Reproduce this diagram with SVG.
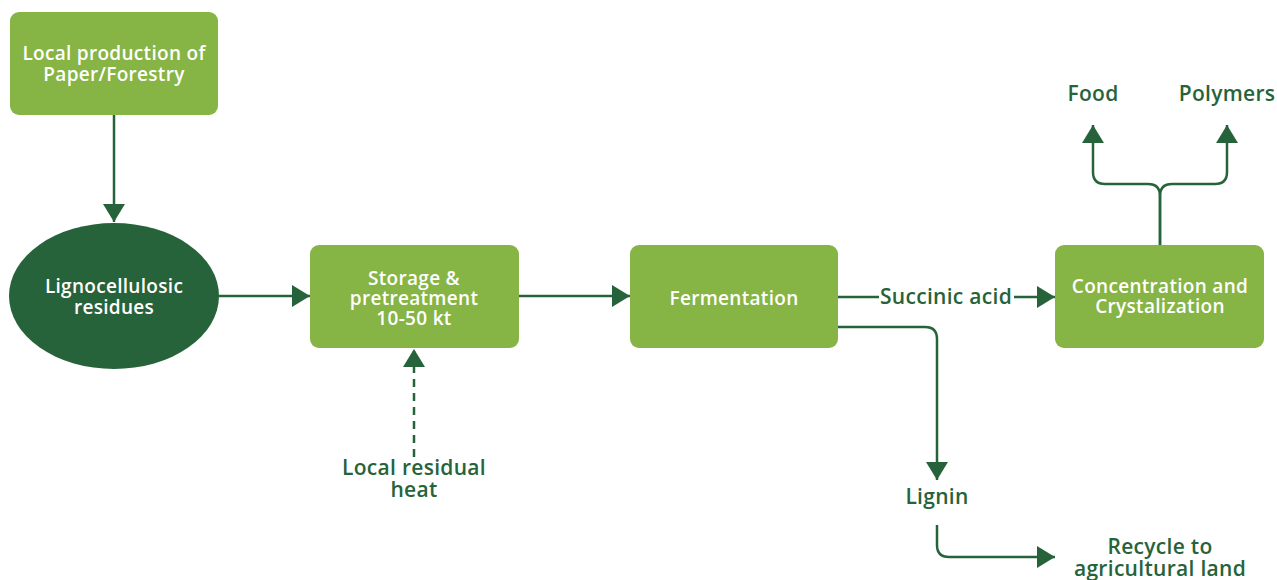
<svg xmlns="http://www.w3.org/2000/svg" width="1277" height="580" viewBox="0 0 1277 580">
<style>
.box{fill:#86b445;}
.dark{fill:#27633a;}
.wt{font-family:"Open Sans","Liberation Sans",sans-serif;font-weight:600;font-size:19px;letter-spacing:0.3px;fill:#ffffff;text-anchor:middle;}
.gt{font-family:"Open Sans","Liberation Sans",sans-serif;font-weight:600;font-size:21px;letter-spacing:0.3px;fill:#27633a;text-anchor:middle;}
.ln{fill:none;stroke:#27633a;stroke-width:2.5;}
</style>
<defs>
<marker id="ah" viewBox="0 0 18 22" refX="18" refY="11" markerWidth="18" markerHeight="22" markerUnits="userSpaceOnUse" orient="auto">
<path d="M0,0 L18,11 L0,22 z" fill="#27633a"/>
</marker>
</defs>
<rect width="1277" height="580" fill="#ffffff"/>
<g id="connectors">
<path class="ln" d="M114,115 V222" marker-end="url(#ah)"/>
<path class="ln" d="M219,296 H310" marker-end="url(#ah)"/>
<path class="ln" d="M519,296 H630" marker-end="url(#ah)"/>
<path class="ln" d="M414,457 V349" stroke-dasharray="8,6" marker-end="url(#ah)"/>
<path class="ln" d="M838,297 H879"/>
<path class="ln" d="M1014,297 H1055" marker-end="url(#ah)"/>
<path class="ln" d="M838,327 H925 Q937,327 937,339 V480" marker-end="url(#ah)"/>
<path class="ln" d="M937,525 V545 Q937,557 949,557 H1055" marker-end="url(#ah)"/>
<path class="ln" d="M1160,245 V196 Q1160,184 1148,184 H1105 Q1093,184 1093,172 V125" marker-end="url(#ah)"/>
<path class="ln" d="M1160,245 V196 Q1160,184 1172,184 H1215 Q1227,184 1227,172 V125" marker-end="url(#ah)"/>
</g>
<g id="node-local-production">
<rect class="box" x="10" y="12" width="208" height="103" rx="9"/>
<text class="wt" x="114" y="60">Local production of</text>
<text class="wt" x="114" y="81">Paper/Forestry</text>
</g>
<g id="node-lignocellulosic">
<ellipse class="dark" cx="114" cy="296" rx="105" ry="73"/>
<text class="wt" x="114" y="293">Lignocellulosic</text>
<text class="wt" x="114" y="314">residues</text>
</g>
<g id="node-storage">
<rect class="box" x="310" y="245" width="209" height="103" rx="9"/>
<text class="wt" x="414" y="285">Storage &amp;</text>
<text class="wt" x="414" y="305">pretreatment</text>
<text class="wt" x="414" y="325">10-50 kt</text>
</g>
<g id="node-fermentation">
<rect class="box" x="630" y="245" width="208" height="103" rx="9"/>
<text class="wt" x="734" y="305">Fermentation</text>
</g>
<g id="node-concentration">
<rect class="box" x="1055" y="245" width="209" height="103" rx="9"/>
<text class="wt" x="1160" y="293">Concentration and</text>
<text class="wt" x="1160" y="313">Crystalization</text>
</g>
<g id="label-succinic">
<text class="gt" x="946" y="304">Succinic acid</text>
</g>
<g id="node-heat">
<text class="gt" x="414" y="475">Local residual</text>
<text class="gt" x="414" y="497">heat</text>
</g>
<g id="node-food">
<text class="gt" x="1093" y="101">Food</text>
</g>
<g id="node-polymers">
<text class="gt" x="1227" y="101">Polymers</text>
</g>
<g id="node-lignin">
<text class="gt" x="937" y="504">Lignin</text>
</g>
<g id="node-recycle">
<text class="gt" x="1160" y="554">Recycle to</text>
<text class="gt" x="1160" y="576">agricultural land</text>
</g>
</svg>
